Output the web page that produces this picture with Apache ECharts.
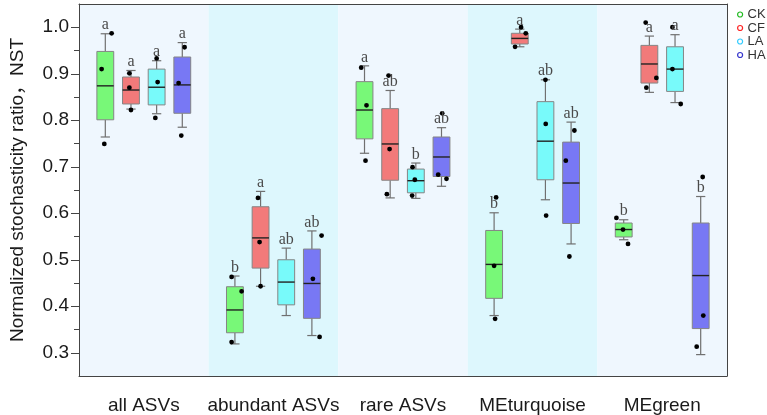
<!DOCTYPE html>
<html>
<head>
<meta charset="utf-8">
<script src="https://cdn.jsdelivr.net/npm/echarts@6/dist/echarts.min.js"></script>
<style>
html,body{margin:0;padding:0;background:#fff;}
#chart{width:767px;height:415px;}
</style>
</head>
<body>
<div id="chart"></div>
<script>
// ---------------- data ----------------
const CATEGORIES = ['all ASVs', 'abundant ASVs', 'rare ASVs', 'MEturquoise', 'MEgreen'];
const SERIES_NAMES = ['CK', 'CF', 'LA', 'HA'];
const Y_TICKS = ['0.3', '0.4', '0.5', '0.6', '0.7', '0.8', '0.9', '1.0'];
const Y_MINOR_TICKS = ['0.35', '0.45', '0.55', '0.65', '0.75', '0.85', '0.95'];

// box stats per category: [lower whisker, Q1, median, Q3, upper whisker]
const CK_BOX = [
  [0.764, 0.801, 0.874, 0.948, 0.986],
  [0.319, 0.343, 0.392, 0.442, 0.465],
  [0.729, 0.760, 0.822, 0.883, 0.917],
  [0.380, 0.417, 0.490, 0.563, 0.601],
  [0.543, 0.549, 0.565, 0.579, 0.586]
];
const CF_BOX = [
  [0.824, 0.835, 0.865, 0.893, 0.907],
  [0.443, 0.482, 0.547, 0.614, 0.647],
  [0.633, 0.671, 0.749, 0.825, 0.864],
  [0.958, 0.964, 0.976, 0.987, 0.996],
  [0.860, 0.880, 0.921, 0.961, 0.981]
];
const LA_BOX = [
  [0.814, 0.833, 0.871, 0.910, 0.928],
  [0.380, 0.403, 0.452, 0.500, 0.525],
  [0.632, 0.644, 0.670, 0.695, 0.708],
  [0.629, 0.672, 0.755, 0.840, 0.887],
  [0.838, 0.862, 0.910, 0.958, 0.984]
];
const HA_BOX = [
  [0.785, 0.815, 0.876, 0.936, 0.967],
  [0.337, 0.374, 0.449, 0.523, 0.562],
  [0.658, 0.679, 0.721, 0.764, 0.784],
  [0.534, 0.578, 0.665, 0.753, 0.796],
  [0.296, 0.352, 0.466, 0.579, 0.636]
];

// individual sample points per category
const CK_PTS = [[0.987, 0.910, 0.749], [0.463, 0.432, 0.323], [0.913, 0.832, 0.713], [0.634, 0.487, 0.373], [0.590, 0.565, 0.534]];
const CF_PTS = [[0.901, 0.870, 0.822], [0.633, 0.538, 0.443], [0.896, 0.738, 0.641], [1.000, 0.987, 0.958], [1.010, 0.891, 0.870]];
const LA_PTS = [[0.933, 0.882, 0.805], [], [0.699, 0.672, 0.638], [0.887, 0.792, 0.595], [1.000, 0.910, 0.835]];
const HA_PTS = [[0.957, 0.880, 0.767], [0.552, 0.459, 0.334], [0.815, 0.683, 0.674], [0.778, 0.713, 0.507], [0.678, 0.380, 0.313]];

// significance letters
const CK_LET = ['a', 'b', 'a', 'b', 'b'];
const CF_LET = ['a', 'a', 'ab', 'a', 'a'];
const LA_LET = ['a', 'ab', 'b', 'ab', 'a'];
const HA_LET = ['a', 'ab', 'ab', 'ab', 'b'];

// ---------------- styles ----------------
const BOXES = [CK_BOX, CF_BOX, LA_BOX, HA_BOX];
const POINTS = [CK_PTS, CF_PTS, LA_PTS, HA_PTS];
const LETTERS = [CK_LET, CF_LET, LA_LET, HA_LET];
const FILL = ['#78F878', '#F27A7A', '#78FAFA', '#7878F4'];
const LEGEND_COLORS = ['#22BB22', '#FF2222', '#33CCFF', '#3333CC'];
// horizontal jitter of the dots (px)
const JITTER = [
  [[6.3, -3.7, -1], [-3.3, 6.7, -3.3], [-3.3, 2, 1], [2, 0, 1], [-7.3, -0.7, 4.3]],
  [[-1.6, -1.6, 0], [-2.6, -1, 0], [-1.6, -0.6, -3.3], [1.3, 6, -4.7], [-3.7, 7, -3]],
  [[0, 1, -1.3], [], [-3.3, -1, -3.7], [0, 0.3, 0.7], [-2.6, -2.6, 5.7]],
  [[2.3, -3.7, -1], [9.7, 1, 7.7], [0.7, -3.3, 5], [3.3, -5.3, -1.7], [2, 2.6, -4]]
];

function makeRender(si) {
  return function (params, api) {
    const cat = api.value(0);
    const band = api.size([1, 0])[0];
    const center = api.coord([cat, 0.5])[0];
    const cx = center + (si - 1.5) * band * 0.198;
    const bw = band * 0.13;
    const cap = bw * 0.55;
    const y = v => api.coord([cat, v])[1];
    const lo = api.value(1), q1 = api.value(2), med = api.value(3), q3 = api.value(4), hi = api.value(5);
    const wStyle = { stroke: '#707070', lineWidth: 1.2 };
    const children = [
      { type: 'line', shape: { x1: cx, y1: y(hi), x2: cx, y2: y(q3) }, style: wStyle },
      { type: 'line', shape: { x1: cx, y1: y(q1), x2: cx, y2: y(lo) }, style: wStyle },
      { type: 'line', shape: { x1: cx - cap / 2, y1: y(hi), x2: cx + cap / 2, y2: y(hi) }, style: wStyle },
      { type: 'line', shape: { x1: cx - cap / 2, y1: y(lo), x2: cx + cap / 2, y2: y(lo) }, style: wStyle },
      { type: 'rect', shape: { x: cx - bw / 2, y: y(q3), width: bw, height: y(q1) - y(q3) },
        style: { fill: FILL[si], stroke: '#858585', lineWidth: 1 } },
      { type: 'line', shape: { x1: cx - bw / 2, y1: y(med), x2: cx + bw / 2, y2: y(med) },
        style: { stroke: '#222', lineWidth: 1.4 }, z2: 5 }
    ];
    const pts = POINTS[si][params.dataIndex];
    const jit = JITTER[si][params.dataIndex];
    pts.forEach((p, k) => {
      children.push({ type: 'circle', shape: { cx: cx + jit[k], cy: y(p), r: 2.4 },
        style: { fill: '#000' }, z2: 50 });
    });
    children.push({ type: 'text', z2: 60,
      style: { text: LETTERS[si][params.dataIndex], x: cx, y: y(hi) - 0.5,
        align: 'center', verticalAlign: 'bottom',
        font: '16px "Liberation Serif", "Times New Roman", serif', fill: '#4a4a4a' } });
    return { type: 'group', children: children };
  };
}

const series = SERIES_NAMES.map((name, si) => ({
  name: name,
  type: 'custom',
  xAxisIndex: 0,
  yAxisIndex: 0,
  renderItem: makeRender(si),
  encode: { x: 0, y: [1, 2, 3, 4, 5] },
  itemStyle: { color: LEGEND_COLORS[si] },
  data: BOXES[si].map((b, ci) => [ci].concat(b))
}));

const axisColor = '#444';
const labelFont = '"Liberation Sans", Arial, sans-serif';

const option = {
  animation: false,
  backgroundColor: '#fff',
  grid: { left: 77, right: 40, top: 4, bottom: 39 },
  legend: {
    orient: 'vertical',
    left: 737,
    top: 8,
    padding: 0,
    itemWidth: 5,
    itemHeight: 5,
    itemGap: 0.5,
    textStyle: { fontSize: 13, lineHeight: 12, color: '#333', fontFamily: labelFont },
    data: SERIES_NAMES.map((n, i) => ({
      name: n, icon: 'circle',
      itemStyle: { color: 'rgba(0,0,0,0)', borderColor: LEGEND_COLORS[i], borderWidth: 1.2 }
    }))
  },
  xAxis: [
    {
      type: 'category',
      data: CATEGORIES,
      boundaryGap: true,
      axisLine: { lineStyle: { color: axisColor, width: 1 } },
      axisTick: { alignWithLabel: true, length: 6, lineStyle: { color: axisColor } },
      axisLabel: { fontSize: 19, color: '#1a1a1a', margin: 20, fontFamily: labelFont, interval: 0 },
      splitLine: { show: false },
      splitArea: { show: true, interval: 0, areaStyle: { color: ['#EFF7FE', '#DDF7FD'] } }
    },
    {
      type: 'category',
      data: CATEGORIES,
      position: 'top',
      axisLine: { lineStyle: { color: axisColor, width: 1 } },
      axisTick: { show: false },
      axisLabel: { show: false },
      splitLine: { show: false },
      splitArea: { show: false }
    }
  ],
  yAxis: [
    {
      type: 'value',
      min: 0.25,
      max: 1.05,
      position: 'left',
      name: 'Normalized stochasticity ratio，NST',
      nameLocation: 'middle',
      nameGap: 52,
      nameTextStyle: { fontSize: 19, color: '#1a1a1a', fontFamily: labelFont + ', "Noto Sans CJK SC"' },
      axisLine: { show: true, lineStyle: { color: axisColor, width: 1 } },
      axisTick: { show: true, length: 8, customValues: Y_TICKS.map(Number), lineStyle: { color: axisColor } },
      axisLabel: { fontSize: 19, color: '#1a1a1a', margin: 10, fontFamily: labelFont,
        customValues: Y_TICKS.map(Number), formatter: v => v.toFixed(1) },
      splitLine: { show: false }
    },
    {
      type: 'value',
      min: 0.25,
      max: 1.05,
      position: 'left',
      axisLine: { show: false },
      axisTick: { show: true, length: 5, customValues: Y_MINOR_TICKS.map(Number), lineStyle: { color: axisColor } },
      axisLabel: { show: false },
      splitLine: { show: false }
    },
    {
      type: 'value',
      min: 0.25,
      max: 1.05,
      position: 'right',
      axisLine: { show: true, lineStyle: { color: axisColor, width: 1 } },
      axisTick: { show: false },
      axisLabel: { show: false },
      splitLine: { show: false }
    }
  ],
  series: series
};

const chart = echarts.init(document.getElementById('chart'), null, { renderer: 'canvas' });
chart.setOption(option);
</script>
</body>
</html>
